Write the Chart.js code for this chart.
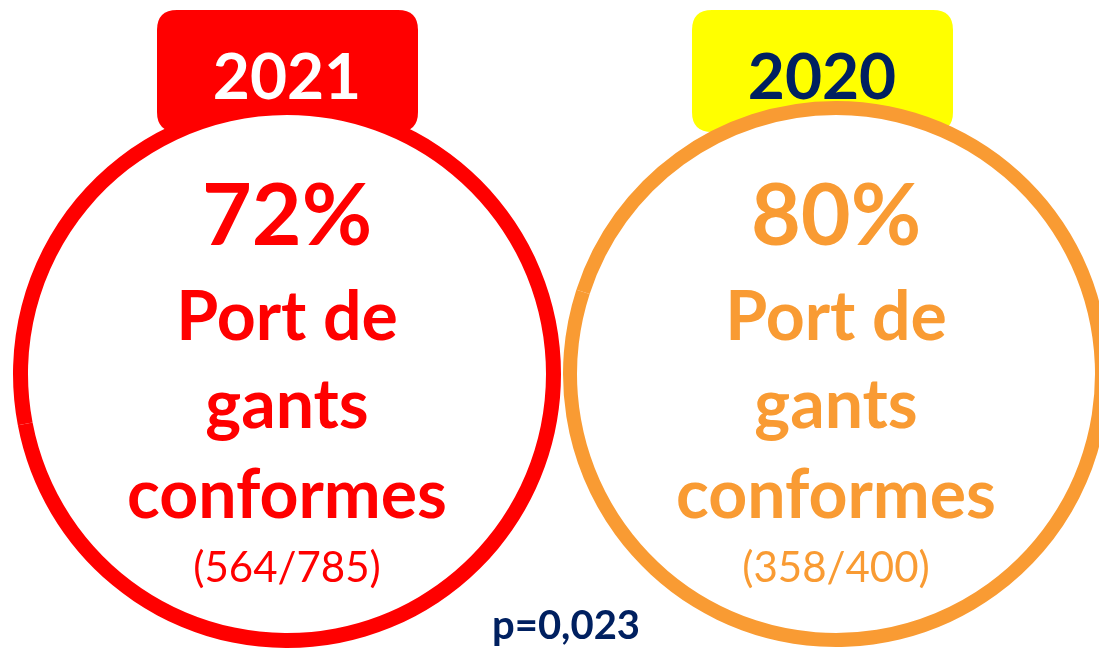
<!DOCTYPE html>
<html>
<head>
<meta charset="utf-8">
<script src="https://cdn.jsdelivr.net/npm/chart.js@4.4.0/dist/chart.umd.min.js"></script>
<style>
  html, body { margin: 0; padding: 0; background: #ffffff; overflow: hidden; width: 1099px; height: 648px; }
  canvas { position: absolute; left: 0; top: 0; }
</style>
</head>
<body>
<canvas id="c1" width="1099" height="648"></canvas>
<canvas id="c2" width="1123" height="648"></canvas>
<script>
// ---- data ----
const years = ['2021', '2020'];
const percentages = [72, 80];
const compliant = [564, 358];
const totals = [785, 400];
const labelLines = ['Port de', 'gants', 'conformes'];
const pValueText = 'p=0,023';

// ---- styles ----
const ringColors = ['#FF0000', '#F99B33'];
const tabColors = ['#FF0000', '#FFFF00'];
const tabTextColors = ['#FFFFFF', '#002060'];
const tabOffsets = [0, -14];
const paddings = [
  { left: 13, right: 538, top: 100, bottom: 0 },
  { left: 563, right: 14, top: 100, bottom: 0 }
];
const FONT = 'Lato, "Open Sans", sans-serif';

function roundRect(ctx, x, y, w, h, r) {
  ctx.beginPath();
  ctx.moveTo(x + r, y);
  ctx.lineTo(x + w - r, y);
  ctx.quadraticCurveTo(x + w, y, x + w, y + r);
  ctx.lineTo(x + w, y + h - r);
  ctx.quadraticCurveTo(x + w, y + h, x + w - r, y + h);
  ctx.lineTo(x + r, y + h);
  ctx.quadraticCurveTo(x, y + h, x, y + h - r);
  ctx.lineTo(x, y + r);
  ctx.quadraticCurveTo(x, y, x + r, y);
  ctx.closePath();
}

const badgePlugin = {
  id: 'badge',
  beforeDatasetsDraw(chart, args, opts) {
    const i = opts.index;
    const arc = chart.getDatasetMeta(0).data[0];
    const cx = arc.x, cy = arc.y, R = arc.outerRadius;
    const ctx = chart.ctx;
    ctx.save();
    const tcx = cx + tabOffsets[i];
    ctx.fillStyle = tabColors[i];
    roundRect(ctx, tcx - 130, 10, 261, 122, 20);
    ctx.fill();
    ctx.fillStyle = '#FFFFFF';
    ctx.beginPath();
    ctx.arc(cx, cy, R - 1, 0, Math.PI * 2);
    ctx.fill();
    ctx.restore();
  },
  afterDatasetsDraw(chart, args, opts) {
    const i = opts.index;
    const arc = chart.getDatasetMeta(0).data[0];
    const cx = arc.x;
    const ctx = chart.ctx;
    ctx.save();
    ctx.textAlign = 'center';
    ctx.textBaseline = 'alphabetic';
    ctx.fillStyle = tabTextColors[i];
    ctx.font = 'bold 64px ' + FONT;
    ctx.fillText(years[i], cx + tabOffsets[i], 99);
    ctx.fillStyle = ringColors[i];
    ctx.font = 'bold 86px ' + FONT;
    ctx.fillText(percentages[i] + '%', cx, 245);
    ctx.font = 'bold 68px ' + FONT;
    const baselines = [340, 428, 518];
    labelLines.forEach((t, k) => ctx.fillText(t, cx, baselines[k]));
    ctx.font = '42px ' + FONT;
    ctx.fillText('(' + compliant[i] + '/' + totals[i] + ')', cx, 582);
    if (i === 0) {
      ctx.fillStyle = '#002060';
      ctx.font = 'bold 40px ' + FONT;
      ctx.fillText(pValueText, 566, 639);
    }
    ctx.restore();
  }
};

function makeChart(id, i) {
  return new Chart(document.getElementById(id), {
    type: 'doughnut',
    data: {
      labels: ['Conformes', 'Non conformes'],
      datasets: [{
        data: [percentages[i], 100 - percentages[i]],
        backgroundColor: [ringColors[i], ringColors[i]],
        borderWidth: 0
      }]
    },
    options: {
      responsive: false,
      animation: false,
      cutout: 259,
      layout: { padding: paddings[i] },
      plugins: {
        legend: { display: false },
        tooltip: { enabled: false },
        badge: { index: i }
      }
    },
    plugins: [badgePlugin]
  });
}

makeChart('c1', 0);
makeChart('c2', 1);
</script>
</body>
</html>
